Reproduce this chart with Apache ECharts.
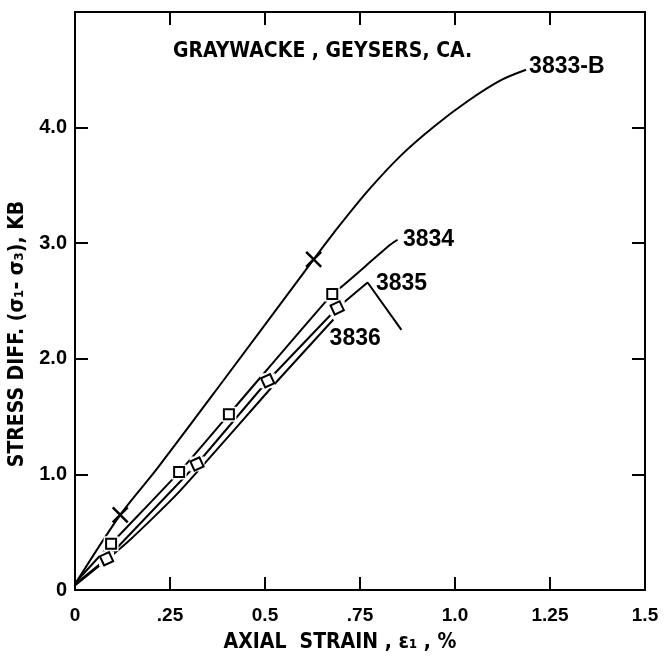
<!DOCTYPE html>
<html><head><meta charset="utf-8">
<script src="https://cdn.jsdelivr.net/npm/echarts@6/dist/echarts.min.js"></script>
<style>html,body{margin:0;padding:0;background:#fff}#c{width:666px;height:664px}</style>
</head><body><div id="c"></div>
<script>
// tick labels
const xTicks = [0, 0.25, 0.5, 0.75, 1.0, 1.25, 1.5];
const xTickLabels = ['0', '.25', '0.5', '.75', '1.0', '1.25', '1.5'];
const yTickLabels = ['0', '1.0', '2.0', '3.0', '4.0'];
// curves: [axial strain %, stress difference kb]
const curve3833B = [[0, 0.05], [0.119, 0.65], [0.216, 1.05], [0.39, 1.81], [0.628, 2.86], [0.681, 3.09], [0.77, 3.45], [0.858, 3.76], [0.945, 4.01], [1.034, 4.23], [1.121, 4.41], [1.187, 4.50]];
const curve3834 = [[0, 0.06], [0.095, 0.40], [0.274, 1.02], [0.405, 1.52], [0.677, 2.56], [0.704, 2.63], [0.831, 2.99], [0.849, 3.03]];
const curve3835 = [[0, 0.05], [0.083, 0.27], [0.321, 1.09], [0.507, 1.81], [0.69, 2.44], [0.77, 2.66], [0.859, 2.25]];
const curve3836 = [[0, 0.04], [0.14, 0.42], [0.277, 0.86], [0.533, 1.81], [0.68, 2.34]];
// plotted points
const crosses3833B = [[0.119, 0.65], [0.628, 2.86]];
const squares3834 = [[0.095, 0.40], [0.274, 1.02], [0.405, 1.52], [0.677, 2.56]];
const squares3835 = [[0.083, 0.27], [0.321, 1.09], [0.507, 1.81], [0.69, 2.44]];
// curve labels: [x, y, text]
const curveLabels = [[1.195, 4.53, '3833-B'], [0.863, 3.03, '3834'], [0.792, 2.65, '3835'], [0.670, 2.17, '3836']];

const DIGITS = '"Liberation Sans", Arial, sans-serif';
const LETTERS = '"Liberation Sans Narrow", "DejaVu Sans Condensed", "Liberation Sans", sans-serif';
const BLACK = '#000';

const chart = echarts.init(document.getElementById('c'), null, {renderer: 'canvas'});

function xLab(v) {
  for (let i = 0; i < xTicks.length; i++) if (Math.abs(xTicks[i] - v) < 1e-6) return xTickLabels[i];
  return '';
}
function yLab(v) {
  const i = Math.round(v);
  return i < yTickLabels.length ? yTickLabels[i] : '';
}

const axisCommon = {
  type: 'value',
  axisLine: {show: true, onZero: false, lineStyle: {color: BLACK, width: 2}},
  axisTick: {show: true, inside: true, length: 13, lineStyle: {color: BLACK, width: 2}},
  splitLine: {show: false}
};

const lineSeries = (data, smooth) => ({
  type: 'line', data: data, smooth: smooth, showSymbol: false, symbol: 'none',
  lineStyle: {color: BLACK, width: 2}, z: 2, silent: true
});

chart.setOption({
  animation: false,
  backgroundColor: '#fff',
  title: {
    text: 'GRAYWACKE , GEYSERS, CA.',
    left: 168, top: 36,
    textStyle: {fontFamily: LETTERS, fontSize: 21, fontWeight: 'bold', color: BLACK}
  },
  grid: {left: 75, right: 21, top: 12, bottom: 74, containLabel: false, outerBoundsMode: 'none'},
  xAxis: [
    Object.assign({}, axisCommon, {
      min: 0, max: 1.5, interval: 0.25, position: 'bottom',
      name: 'AXIAL  STRAIN , ε₁ , %', nameLocation: 'middle', nameGap: 42,
      nameTextStyle: {fontFamily: LETTERS, fontSize: 21, fontWeight: 'bold', color: BLACK, padding: [0, 40, 0, 0]},
      axisLabel: {formatter: xLab, margin: 16, fontFamily: DIGITS, fontSize: 19, fontWeight: 'bold', color: BLACK}
    }),
    Object.assign({}, axisCommon, {
      min: 0, max: 1.5, interval: 0.25, position: 'top',
      axisLabel: {show: false}
    })
  ],
  yAxis: [
    Object.assign({}, axisCommon, {
      min: 0, max: 5, interval: 1, position: 'left',
      name: 'STRESS DIFF. (σ₁- σ₃), KB', nameLocation: 'middle', nameGap: 43,
      nameTextStyle: {fontFamily: LETTERS, fontSize: 21, fontWeight: 'bold', color: BLACK, padding: [0, 66, 0, 0]},
      axisLabel: {formatter: yLab, margin: 8, fontFamily: DIGITS, fontSize: 20, fontWeight: 'bold', color: BLACK}
    }),
    Object.assign({}, axisCommon, {
      min: 0, max: 5, interval: 1, position: 'right',
      axisLabel: {show: false}
    })
  ],
  series: [
    lineSeries(curve3833B, 0.3),
    lineSeries(curve3834, 0.25),
    lineSeries(curve3835, false),
    lineSeries(curve3836, 0.2),
    // white masks under markers (gap effect)
    {type: 'scatter', data: squares3834.concat(squares3835), symbol: 'rect', symbolSize: 15,
     itemStyle: {color: '#fff', borderWidth: 0, opacity: 1}, z: 3, silent: true},
    {type: 'scatter', data: squares3834, symbol: 'rect', symbolSize: 10,
     itemStyle: {color: '#fff', borderColor: BLACK, borderWidth: 2, opacity: 1}, z: 4, silent: true},
    {type: 'scatter', data: squares3835, symbol: 'rect', symbolSize: 10, symbolRotate: 25,
     itemStyle: {color: '#fff', borderColor: BLACK, borderWidth: 2, opacity: 1}, z: 4, silent: true},
    {type: 'scatter', data: crosses3833B, symbol: 'path://M0,0L10,10M10,0L0,10', symbolSize: 15,
     itemStyle: {color: 'rgba(0,0,0,0)', borderColor: BLACK, borderWidth: 2.5, opacity: 1}, z: 4, silent: true},
    {type: 'scatter', data: curveLabels, symbolSize: 0, z: 5, silent: true,
     itemStyle: {opacity: 1},
     label: {show: true, position: 'right', distance: 0, formatter: p => p.value[2],
             fontFamily: DIGITS, fontSize: 23, fontWeight: 'bold', color: BLACK}}
  ]
});
</script></body></html>
